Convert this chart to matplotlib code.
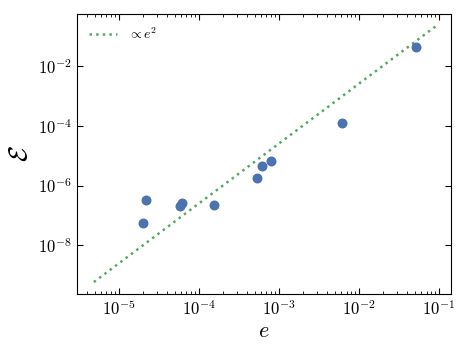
import numpy as np
import matplotlib

matplotlib.use("Agg")
import matplotlib.pyplot as plt

# data
e_vals = [0.0512, 0.0062, 7.9e-4, 6.25e-4, 5.3e-4, 1.57e-4, 6.2e-5, 5.8e-5, 2.2e-5, 2.0e-5]
err_vals = [0.043, 1.26e-4, 6.5e-6, 4.5e-6, 1.75e-6, 2.27e-7, 2.7e-7, 2.15e-7, 3.3e-7, 5.8e-8]
fit_range = [4.9e-6, 0.094]
fit_coef = 25.0

plt.rcParams.update(
    {
        "font.family": "serif",
        "font.serif": ["cmr10", "DejaVu Serif"],
        "mathtext.fontset": "cm",
        "axes.formatter.use_mathtext": True,
        "xtick.direction": "in",
        "ytick.direction": "in",
        "xtick.top": True,
        "ytick.right": True,
    }
)

fig = plt.figure(figsize=(4.71, 3.5), dpi=100)
ax = fig.add_axes([0.163, 0.16, 0.794, 0.80])

e_line = np.logspace(np.log10(fit_range[0]), np.log10(fit_range[1]), 100)
ax.plot(e_line, fit_coef * e_line**2, ls=":", color="#55A868", lw=1.8, label=r"$\propto e^2$")
ax.scatter(e_vals, err_vals, s=38, color="#4C72B0", zorder=3)

ax.set_xscale("log")
ax.set_yscale("log")
ax.set_xlim(3.0e-6, 0.14)
ax.set_ylim(2.4e-10, 0.53)
ax.set_yticks([1e-8, 1e-6, 1e-4, 1e-2])
ax.tick_params(which="both", labelsize=12)
ax.tick_params(which="major", length=4)
ax.tick_params(which="minor", length=2)
ax.set_xlabel(r"$e$", fontsize=16, labelpad=2)
ax.set_ylabel(r"$\mathcal{E}$", fontsize=19)
ax.legend(loc="upper left", frameon=False, fontsize=10, handlelength=2.0)

fig.savefig("out.png", dpi=100)
